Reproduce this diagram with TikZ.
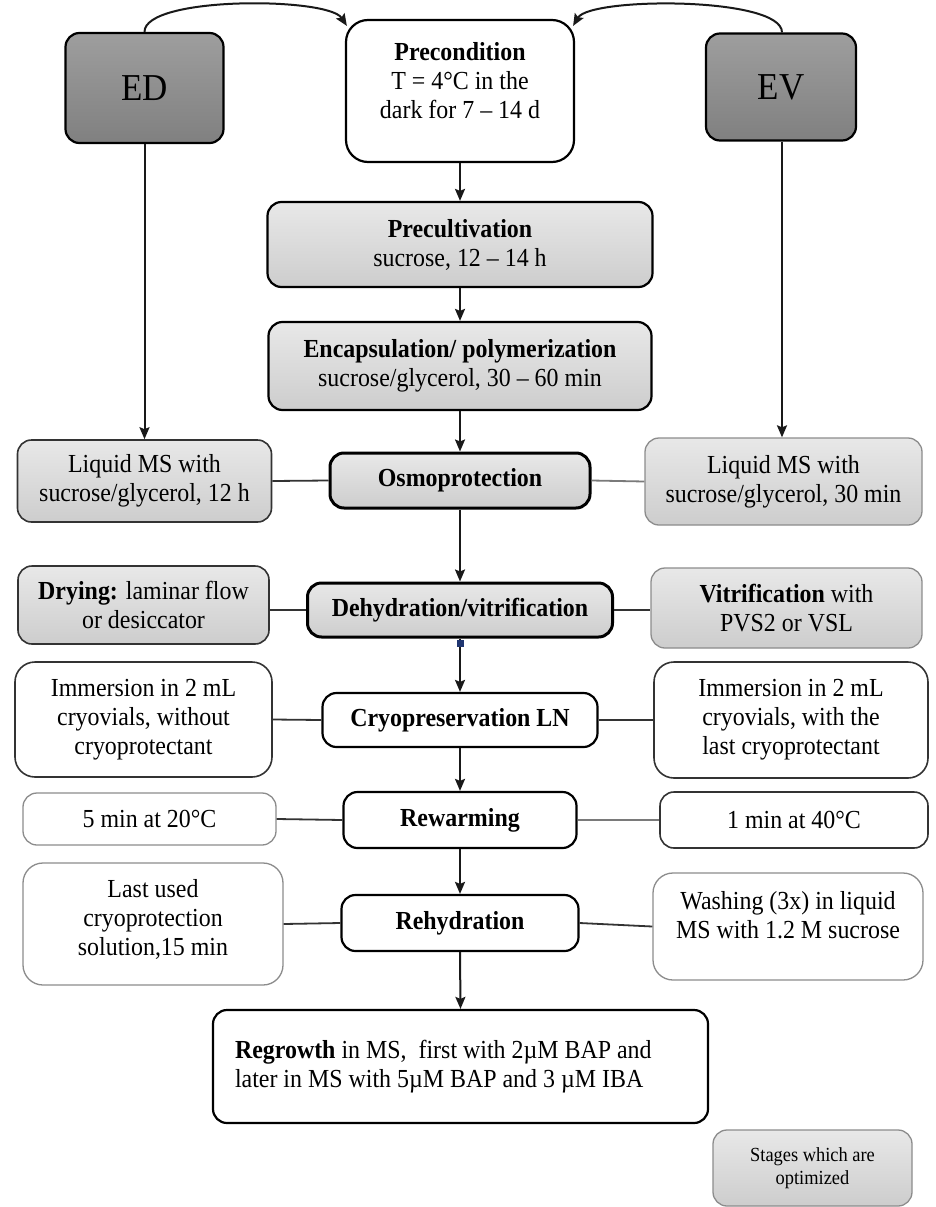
\documentclass[tikz,border=0pt]{standalone}
\usepackage{fontspec}
\setmainfont{Liberation Serif}[FakeStretch=0.92]
\usetikzlibrary{arrows.meta}
\definecolor{darktop}{HTML}{9E9E9E}
\definecolor{darkbot}{HTML}{808080}
\definecolor{lighttop}{HTML}{E8E8E8}
\definecolor{lightbot}{HTML}{CDCDCD}
\definecolor{edgegray}{HTML}{8C8C8C}
\definecolor{linegray}{HTML}{7A7A7A}
\definecolor{markblue}{HTML}{1F3570}
\begin{document}
\begin{tikzpicture}[x=1pt,y=-1pt,
  box/.style={rounded corners=14pt, inner sep=0pt, align=center,
    font=\fontsize{26}{29}\selectfont},
  mainbox/.style={box, draw=black, line width=2.2pt},
  heavybox/.style={box, draw=black, line width=3pt},
  sidebox/.style={box, draw=black!80, line width=1.6pt},
  thinbox/.style={box, draw=edgegray, line width=1.3pt},
  darkfill/.style={top color=darktop, bottom color=darkbot},
  lightfill/.style={top color=lighttop, bottom color=lightbot},
  arr/.style={line width=2pt, draw=black!90, -{Stealth[length=12pt,width=10pt,inset=2pt]}},
  link/.style={line width=1.8pt, draw=black!80},
  glink/.style={line width=1.8pt, draw=linegray}
]
\fill[white] (0,0) rectangle (936,1207);
\useasboundingbox (0,0) rectangle (936,1207);

% top row
\node[mainbox, darkfill, minimum width=158pt, minimum height=110pt] (ED) at (144.5,88) {\fontsize{38}{40}\selectfont ED};
\node[mainbox, fill=white, rounded corners=22pt, minimum width=228pt, minimum height=142pt] (pre) at (460,91)
  {\textbf{Precondition}\\T = 4°C in the\\dark for 7 -- 14 d\\[-8pt]};
\node[mainbox, darkfill, minimum width=150pt, minimum height=107pt] (EV) at (781,87) {\fontsize{38}{40}\selectfont EV};

% central column
\node[mainbox, lightfill, minimum width=385pt, minimum height=85pt] (precult) at (460,244.5)
  {\textbf{Precultivation}\\sucrose, 12 -- 14 h};
\node[mainbox, lightfill, minimum width=383pt, minimum height=88pt] (encap) at (460,366)
  {\textbf{Encapsulation/ polymerization}\\sucrose/glycerol, 30 -- 60 min};
\node[heavybox, lightfill, minimum width=260pt, minimum height=55pt] (osmo) at (460,480.5)
  {\textbf{Osmoprotection}};
\node[heavybox, lightfill, minimum width=305pt, minimum height=54pt] (dehy) at (460,610)
  {\textbf{Dehydration/vitrification}};
\node[mainbox, fill=white, minimum width=275pt, minimum height=54pt] (cryo) at (460,720)
  {\textbf{Cryopreservation LN}};
\node[mainbox, fill=white, minimum width=233pt, minimum height=56pt] (rewarm) at (460,820)
  {\textbf{Rewarming}};
\node[mainbox, fill=white, minimum width=237pt, minimum height=56pt] (rehy) at (460,923)
  {\textbf{Rehydration}};
\node[mainbox, fill=white, minimum width=495pt, minimum height=113pt, text width=451pt, align=flush left] (regrow) at (460.5,1066.5)
  {\textbf{Regrowth} in MS,\ \ first with 2µM BAP and\\later in MS with 5µM BAP and 3 µM IBA};

% left column
\node[sidebox, lightfill, minimum width=254pt, minimum height=82pt] (liqL) at (144.5,481)
  {Liquid MS with\\sucrose/glycerol, 12 h};
\node[sidebox, lightfill, minimum width=251pt, minimum height=78pt] (dry) at (143.5,605)
  {\textbf{Drying:} laminar flow\\or desiccator};
\node[sidebox, fill=white, rounded corners=20pt, minimum width=257pt, minimum height=115pt] (immL) at (143.5,719.5)
  {Immersion in 2 mL\\cryovials, without\\cryoprotectant};
\node[thinbox, fill=white, minimum width=253pt, minimum height=52pt] (fiveMin) at (149.5,819)
  {5 min at 20°C};
\node[thinbox, fill=white, rounded corners=20pt, minimum width=260pt, minimum height=122pt] (last) at (153,924)
  {Last used\\cryoprotection\\solution,15 min\\[-15pt]};

% right column
\node[thinbox, lightfill, minimum width=277pt, minimum height=87pt] (liqR) at (783.5,481.5)
  {Liquid MS with\\sucrose/glycerol, 30 min};
\node[thinbox, lightfill, minimum width=271pt, minimum height=80pt] (vitr) at (786.5,608)
  {\textbf{Vitrification} with\\PVS2 or VSL};
\node[sidebox, fill=white, rounded corners=20pt, minimum width=274pt, minimum height=116pt] (immR) at (791,720)
  {Immersion in 2 mL\\cryovials, with the\\last cryoprotectant};
\node[sidebox, fill=white, minimum width=268pt, minimum height=56pt] (oneMin) at (794,820)
  {1 min at 40°C};
\node[thinbox, fill=white, rounded corners=20pt, minimum width=270pt, minimum height=107pt] (wash) at (788,926.5)
  {Washing (3x) in liquid\\MS with 1.2 M sucrose\\[-5pt]};

% legend
\node[thinbox, lightfill, minimum width=199pt, minimum height=76pt, font=\fontsize{20}{23}\selectfont] (legend) at (812.5,1168)
  {Stages which are\\optimized};

% top curved connectors
\draw[arr] (ED.north) .. controls +(0,-36) and +(-19,-29) .. ([shift={(2,7)}]pre.north west);
\draw[arr] ([xshift=1pt]EV.north) .. controls +(0,-36) and +(17,-29) .. ([shift={(-2,7)}]pre.north east);

% vertical flow
\draw[arr] (pre.south) -- (precult.north);
\draw[arr] (precult.south) -- (encap.north);
\draw[arr] (encap.south) -- (osmo.north);
\draw[arr] (osmo.south) -- (dehy.north);
\draw[arr] (dehy.south) -- (cryo.north);
\draw[arr] (cryo.south) -- (rewarm.north);
\draw[arr] (rewarm.south) -- (rehy.north);
\draw[arr] (rehy.south) -- (regrow.north);
\fill[markblue] ([shift={(-3,1)}]dehy.south) rectangle ([shift={(4,8)}]dehy.south);

\draw[arr] (ED.south) -- (ED.south |- liqL.north);
\draw[arr] ([xshift=1pt]EV.south) -- ([xshift=1pt]EV.south |- liqR.north);

% side links
\draw[link] (liqL.east) -- (osmo.west);
\draw[glink] (osmo.east) -- (liqR.west);
\draw[link] (dehy.west) -- (dehy.west -| dry.east);
\draw[link] (dehy.east) -- (dehy.east -| vitr.west);
\draw[link] (immL.east) -- (cryo.west);
\draw[link] (cryo.east) -- (immR.west);
\draw[link] (fiveMin.east) -- (rewarm.west);
\draw[glink] (rewarm.east) -- (oneMin.west);
\draw[link] (last.east) -- (rehy.west);
\draw[link] (rehy.east) -- (wash.west);
\end{tikzpicture}
\end{document}
